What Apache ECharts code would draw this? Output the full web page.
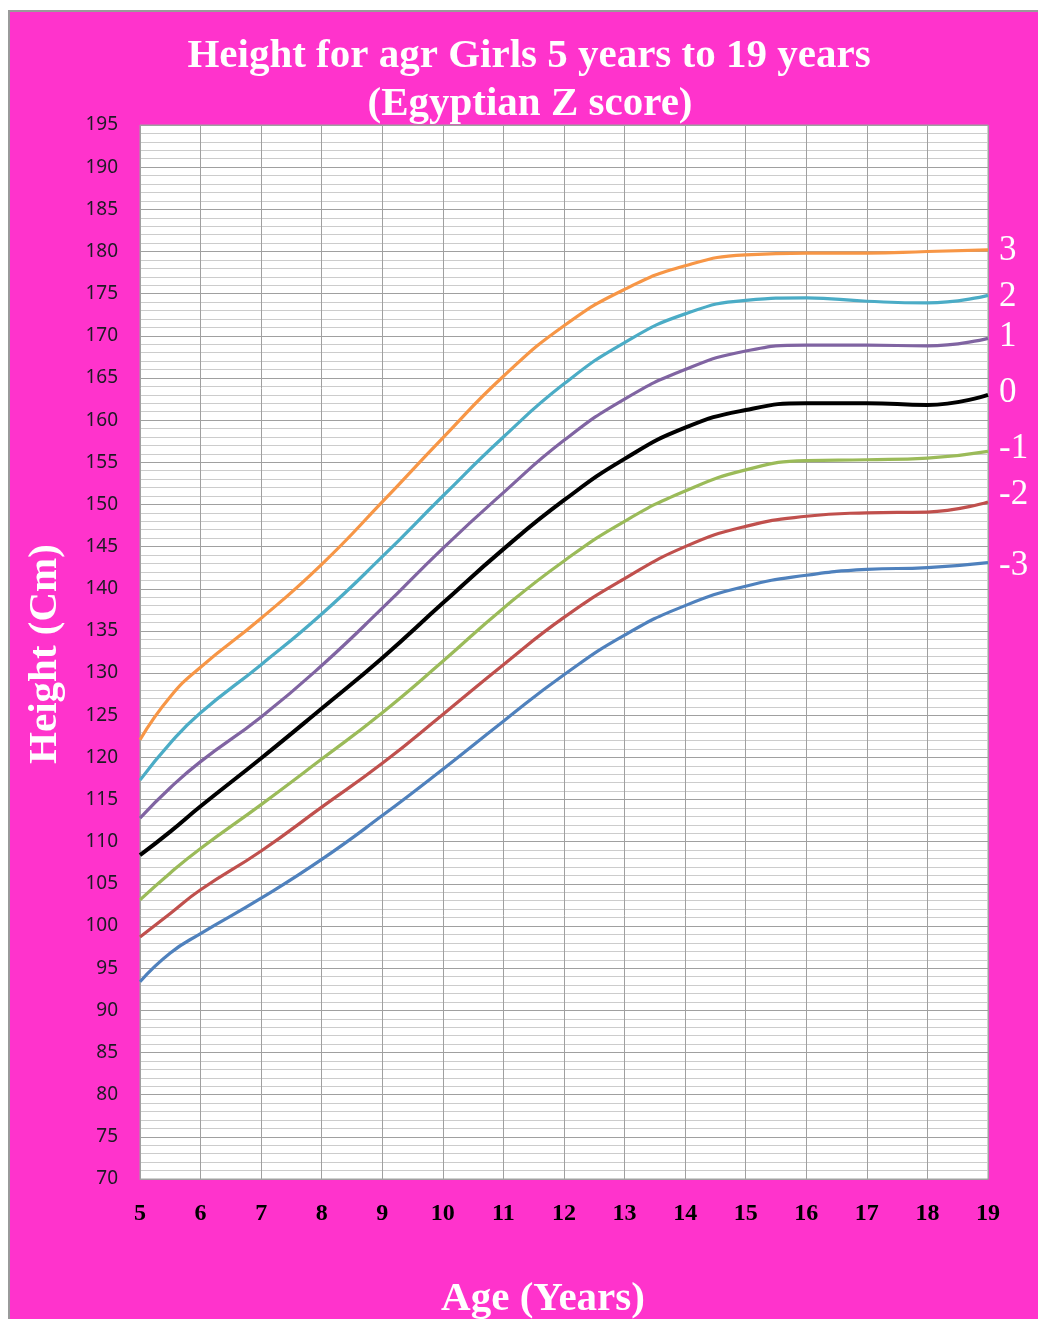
<!DOCTYPE html>
<html>
<head>
<meta charset="utf-8">
<script src="https://cdn.jsdelivr.net/npm/echarts@6/dist/echarts.min.js"></script>
<style>
  html, body { margin: 0; padding: 0; background: #ffffff; }
  #wrap { position: absolute; left: 8px; top: 10px; border-left: 2px solid #9a9a9a; border-top: 2px solid #9a9a9a; }
  #chart { width: 1028px; height: 1307px; }
</style>
</head>
<body>
<div id="wrap"><div id="chart"></div></div>
<script>
// Ages (years) at which values were read
const ages = [5, 5.5, 6, 7, 8, 9, 10, 11, 12, 13, 14, 15, 16, 17, 18, 19];
// Height (cm) per Z-score curve
const sd3  = [122.1, 127.2, 130.7, 136.5, 142.9, 150.3, 157.9, 165.2, 171.2, 175.5, 178.3, 179.6, 179.8, 179.8, 180.0, 180.2];
const sd2  = [117.3, 121.7, 125.3, 131.0, 137.0, 143.8, 151.0, 158.0, 164.3, 169.2, 172.6, 174.2, 174.5, 174.1, 173.9, 174.8];
const sd1  = [112.8, 116.4, 119.5, 124.8, 130.9, 137.7, 144.8, 151.4, 157.6, 162.5, 166.0, 168.2, 168.9, 168.9, 168.8, 169.7];
const sd0  = [108.4, 111.2, 114.2, 119.9, 125.8, 131.8, 138.3, 144.7, 150.5, 155.4, 159.1, 161.2, 162.0, 162.0, 161.8, 163.0];
const sdm1 = [103.1, 106.3, 109.2, 114.4, 119.8, 125.3, 131.4, 137.7, 143.3, 148.0, 151.6, 154.1, 155.2, 155.3, 155.5, 156.3];
const sdm2 = [98.7, 101.5, 104.3, 108.9, 114.1, 119.3, 125.1, 131.0, 136.6, 141.2, 145.0, 147.4, 148.6, 149.0, 149.1, 150.3];
const sdm3 = [93.4, 96.8, 99.1, 103.3, 107.9, 113.1, 118.6, 124.3, 129.8, 134.5, 138.0, 140.3, 141.6, 142.3, 142.5, 143.1];

const seriesNames = ['3', '2', '1', '0', '-1', '-2', '-3'];
const seriesValues = [sd3, sd2, sd1, sd0, sdm1, sdm2, sdm3];
const seriesColors = ['#F79646', '#4BACC6', '#8064A2', '#000000', '#9BBB59', '#C0504D', '#4F81BD'];
const labelOffsetY = [1, 1, -2, -2, -3, -7, 3];

const titleLine1 = 'Height for agr Girls 5 years to 19 years';
const titleLine2 = '(Egyptian Z score)';
const xName = 'Age (Years)';
const yName = 'Height (Cm)';

const chart = echarts.init(document.getElementById('chart'));
const serif = '"Liberation Serif", "Times New Roman", serif';

const series = seriesNames.map((n, i) => ({
  name: n,
  type: 'line',
  data: ages.map((a, j) => [a, seriesValues[i][j]]),
  smooth: 0.5,
  showSymbol: false,
  symbol: 'none',
  lineStyle: { color: seriesColors[i], width: i === 3 ? 4 : 3.2 },
  itemStyle: { color: seriesColors[i] },
  endLabel: {
    show: true,
    formatter: '{a}',
    color: '#ffffff',
    fontFamily: serif,
    fontSize: 35,
    distance: 11,
    offset: [0, labelOffsetY[i]]
  },
  z: 3
}));

chart.setOption({
  animation: false,
  backgroundColor: '#FF33CC',
  grid: {
    left: 130, top: 113, right: 50, bottom: 140,
    show: true, backgroundColor: '#ffffff', borderColor: '#a0a0a0', borderWidth: 1
  },
  xAxis: {
    type: 'value', min: 5, max: 19, interval: 1,
    axisLine: { show: true, lineStyle: { color: '#a0a0a0' } },
    axisTick: { show: false },
    axisLabel: { color: '#000', fontFamily: serif, fontWeight: 'bold', fontSize: 24, margin: 23 },
    splitLine: { show: true, lineStyle: { color: '#a0a0a0', width: 1 } }
  },
  yAxis: {
    type: 'value', min: 70, max: 195, interval: 5,
    axisLine: { show: false },
    axisTick: { show: false },
    axisLabel: { color: '#1e1a24', fontFamily: '"Noto Sans", sans-serif', fontSize: 19, margin: 22 },
    splitLine: { show: true, lineStyle: { color: '#a0a0a0', width: 1 } },
    minorTick: { show: false, splitNumber: 5 },
    minorSplitLine: { show: true, lineStyle: { color: '#cccccc', width: 1 } }
  },
  graphic: [
    { type: 'text', x: 519, y: 44, style: { text: titleLine1, textAlign: 'center', textVerticalAlign: 'middle', font: 'bold 41px ' + serif, fill: '#ffffff' } },
    { type: 'text', x: 520, y: 92, style: { text: titleLine2, textAlign: 'center', textVerticalAlign: 'middle', font: 'bold 41px ' + serif, fill: '#ffffff' } },
    { type: 'text', x: 533, y: 1287, style: { text: xName, textAlign: 'center', textVerticalAlign: 'middle', font: 'bold 41px ' + serif, fill: '#ffffff' } },
    { type: 'text', x: 35, y: 642, rotation: Math.PI / 2, style: { text: yName, x: 0, y: 0, textAlign: 'center', textVerticalAlign: 'middle', font: 'bold 41px ' + serif, fill: '#ffffff' } }
  ],
  series: series
});
</script>
</body>
</html>
